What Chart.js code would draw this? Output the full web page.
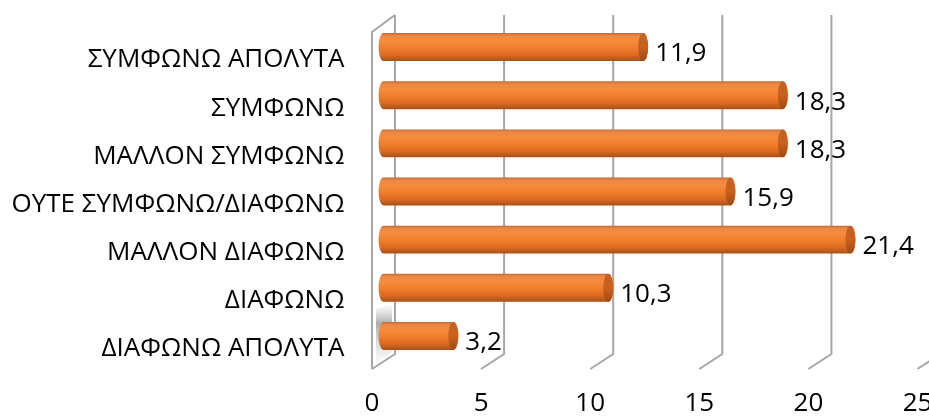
<!DOCTYPE html>
<html>
<head>
<meta charset="utf-8">
<script src="https://cdn.jsdelivr.net/npm/chart.js@4/dist/chart.umd.min.js"></script>
<style>
  html, body { margin: 0; padding: 0; background: #ffffff; }
  #wrap { width: 929px; height: 419px; position: relative; }
</style>
</head>
<body>
<div id="wrap"><canvas id="chart"></canvas></div>
<script>
// Survey answers, top to bottom, and their shares (%)
const categories = [
  'ΣΥΜΦΩΝΩ ΑΠΟΛΥΤΑ',
  'ΣΥΜΦΩΝΩ',
  'ΜΑΛΛΟΝ ΣΥΜΦΩΝΩ',
  'ΟΥΤΕ ΣΥΜΦΩΝΩ/ΔΙΑΦΩΝΩ',
  'ΜΑΛΛΟΝ ΔΙΑΦΩΝΩ',
  'ΔΙΑΦΩΝΩ',
  'ΔΙΑΦΩΝΩ ΑΠΟΛΥΤΑ'
];
const percentages = [11.9, 18.3, 18.3, 15.9, 21.4, 10.3, 3.2];
const axisMin = 0;
const axisMax = 25;
const axisStep = 5;

const FONT = '"Open Sans", Lato, sans-serif';
const FONT_SIZE = 26;
const HALF_DEPTH = 11.5;   // horizontal half-depth of the 3D box
const GRID_COLOR = '#a6a6a6';

const fmt = v => String(v).replace('.', ',');

// Back wall, floor and side wall of the pseudo-3D plot box
const wallPlugin = {
  id: 'wall3d',
  beforeDatasetsDraw(chart) {
    const { ctx, chartArea } = chart;
    const xs = chart.scales.x;
    const backTop = chartArea.top - 8;
    const frontTop = backTop + 17;
    const backBottom = chartArea.bottom - 6;
    const frontBottom = backBottom + 15;
    const p0 = xs.getPixelForValue(axisMin);
    const f0 = p0 - HALF_DEPTH, b0 = p0 + HALF_DEPTH;

    ctx.save();
    // soft shading on the lower part of the side wall
    const g = ctx.createLinearGradient(0, backBottom - 50, 0, frontBottom);
    g.addColorStop(0, 'rgba(140,140,140,0)');
    g.addColorStop(0.3, 'rgba(90,90,90,0.5)');
    g.addColorStop(0.65, 'rgba(160,160,160,0.3)');
    g.addColorStop(1, 'rgba(220,220,220,0.05)');
    ctx.beginPath();
    ctx.moveTo(f0 + 4, backBottom - 45);
    ctx.lineTo(b0 - 3, backBottom - 50);
    ctx.lineTo(b0 - 3, backBottom - 2);
    ctx.lineTo(f0 + 4, frontBottom - 6);
    ctx.closePath();
    ctx.fillStyle = g;
    ctx.fill();

    ctx.strokeStyle = GRID_COLOR;
    ctx.lineWidth = 2;
    xs.ticks.forEach(t => {
      const p = xs.getPixelForValue(t.value);
      const b = p + HALF_DEPTH, f = p - HALF_DEPTH;
      ctx.beginPath();
      ctx.moveTo(b, backTop);
      ctx.lineTo(b, backBottom);
      ctx.lineTo(f, frontBottom);
      ctx.stroke();
    });
    // side wall outline
    ctx.beginPath();
    ctx.moveTo(b0, backTop);
    ctx.lineTo(f0, frontTop);
    ctx.lineTo(f0, frontBottom);
    ctx.stroke();
    ctx.restore();
  }
};

// Cylinder-shaped bars with their value labels
const cylinderPlugin = {
  id: 'cylinders',
  afterDatasetsDraw(chart) {
    const { ctx } = chart;
    const meta = chart.getDatasetMeta(0);
    const values = chart.data.datasets[0].data;
    ctx.save();
    meta.data.forEach((el, i) => {
      const { x, y, base, height } = el.getProps(['x', 'y', 'base', 'height'], true);
      const h = height / 2;
      const rx = 5;
      const body = ctx.createLinearGradient(0, y - h, 0, y + h);
      body.addColorStop(0, '#c66a2e');
      body.addColorStop(0.1, '#ee8846');
      body.addColorStop(0.3, '#f78a3d');
      body.addColorStop(0.55, '#f07c2d');
      body.addColorStop(0.8, '#d96820');
      body.addColorStop(1, '#a5501a');
      ctx.beginPath();
      ctx.moveTo(base, y - h);
      ctx.lineTo(x, y - h);
      ctx.ellipse(x, y, rx, h, 0, -Math.PI / 2, Math.PI / 2, false);
      ctx.lineTo(base, y + h);
      ctx.ellipse(base, y, rx, h, 0, Math.PI / 2, Math.PI * 1.5, false);
      ctx.closePath();
      ctx.fillStyle = body;
      ctx.fill();

      const cap = ctx.createLinearGradient(0, y - h, 0, y + h);
      cap.addColorStop(0, '#c0632a');
      cap.addColorStop(0.5, '#c8621f');
      cap.addColorStop(1, '#9c4a16');
      ctx.beginPath();
      ctx.ellipse(x, y, rx, h, 0, 0, Math.PI * 2);
      ctx.fillStyle = cap;
      ctx.fill();

      ctx.fillStyle = '#000000';
      ctx.font = FONT_SIZE + 'px ' + FONT;
      ctx.textAlign = 'left';
      ctx.textBaseline = 'middle';
      ctx.fillText(fmt(values[i]), x + 12, y + 7);
    });
    ctx.restore();
  }
};

new Chart(document.getElementById('chart'), {
  type: 'bar',
  data: {
    labels: categories,
    datasets: [{
      data: percentages,
      backgroundColor: 'rgba(0,0,0,0)',
      borderWidth: 0,
      barPercentage: 0.58,
      categoryPercentage: 1
    }]
  },
  options: {
    indexAxis: 'y',
    responsive: true,
    maintainAspectRatio: false,
    animation: false,
    layout: { padding: { top: 23, right: 0, bottom: 0, left: 0 } },
    plugins: { legend: { display: false }, tooltip: { enabled: false } },
    scales: {
      x: {
        min: axisMin,
        max: axisMax,
        ticks: {
          stepSize: axisStep,
          labelOffset: -HALF_DEPTH,
          padding: 28,
          color: '#000000',
          font: { family: FONT, size: FONT_SIZE },
          maxRotation: 0
        },
        grid: { display: false, drawTicks: false },
        border: { display: false },
        afterFit(s) { s.height = 59; s.paddingLeft = 0; s.paddingRight = 0; }
      },
      y: {
        ticks: {
          padding: 39,
          labelOffset: 13,
          color: '#000000',
          font: { family: FONT, size: FONT_SIZE }
        },
        grid: { display: false, drawTicks: false },
        border: { display: false },
        afterFit(s) { s.width = 383.5; s.paddingTop = 0; s.paddingBottom = 0; }
      }
    }
  },
  plugins: [wallPlugin, cylinderPlugin]
});
</script>
</body>
</html>
